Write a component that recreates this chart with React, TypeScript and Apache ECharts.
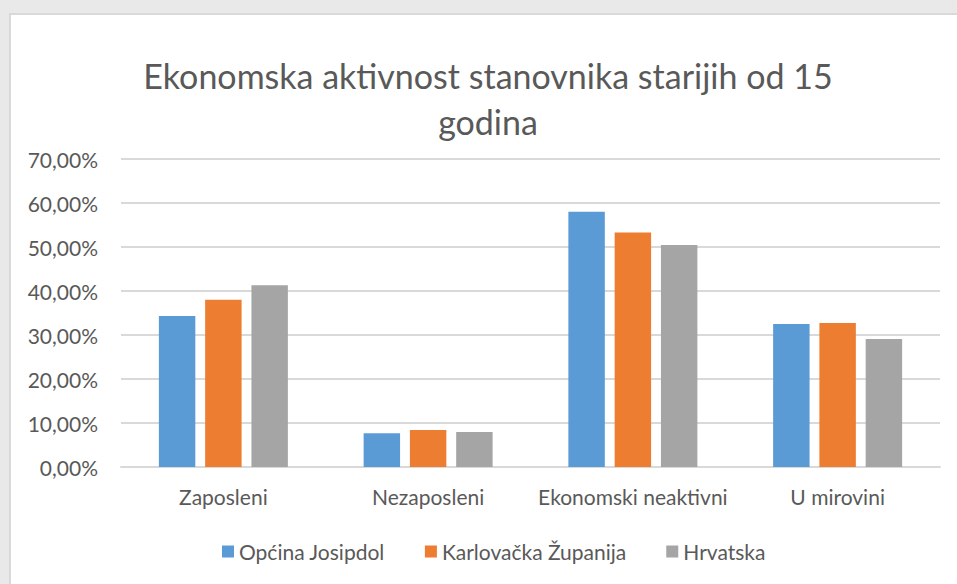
import React, { useEffect, useRef } from "react";
import * as echarts from "echarts";

const categories = ["Zaposleni", "Nezaposleni", "Ekonomski neaktivni", "U mirovini"];
const seriesNames = ["Općina Josipdol", "Karlovačka Županija", "Hrvatska"];
const josipdol = [34.3, 7.65, 58.0, 32.5];
const karlovacka = [38.0, 8.4, 53.3, 32.7];
const hrvatska = [41.3, 7.95, 50.45, 29.1];
const colors = ["#5B9BD5", "#ED7D31", "#A5A5A5"];
const titleText = "Ekonomska aktivnost stanovnika starijih od 15\ngodina";

export default function App() {
  const ref = useRef<HTMLDivElement>(null);
  useEffect(() => {
    if (!ref.current) return;
    const chart = echarts.init(ref.current, undefined, { renderer: "svg" });
    const font = "Lato, 'Open Sans', sans-serif";
    const data = [josipdol, karlovacka, hrvatska];
    chart.setOption({
      animation: false,
      backgroundColor: "#e9e9e9",
      textStyle: { fontFamily: font },
      graphic: [
        {
          type: "rect",
          z: -10,
          silent: true,
          shape: { x: 10, y: 14, width: 960, height: 590 },
          style: { fill: "#ffffff", stroke: "#d9d9d9", lineWidth: 2 },
        },
      ],
      title: {
        text: titleText,
        left: 488,
        top: 52,
        padding: 0,
        textAlign: "center",
        textStyle: {
          fontFamily: font,
          fontSize: 34,
          fontWeight: "normal",
          color: "#595959",
          lineHeight: 46,
        },
      },
      legend: {
        data: seriesNames,
        left: 217,
        top: 536,
        itemWidth: 12,
        itemHeight: 12,
        itemGap: 40,
        icon: "rect",
        textStyle: { fontFamily: font, fontSize: 21, color: "#595959" },
      },
      grid: { left: 121, right: 17, top: 159, bottom: 117 },
      xAxis: {
        type: "category",
        data: categories,
        axisLine: { show: true, lineStyle: { color: "#d9d9d9", width: 2 } },
        axisTick: { show: false },
        axisLabel: { color: "#595959", fontSize: 21, fontFamily: font, margin: 19, interval: 0 },
      },
      yAxis: {
        type: "value",
        min: 0,
        max: 70,
        interval: 10,
        axisLine: { show: false },
        axisTick: { show: false },
        splitLine: { lineStyle: { color: "#d9d9d9", width: 2 } },
        axisLabel: {
          color: "#595959",
          fontSize: 21,
          fontFamily: font,
          margin: 23,
          formatter: (v: number) => v.toFixed(2).replace(".", ",") + "%",
        },
      },
      series: seriesNames.map((name, i) => ({
        name,
        type: "bar",
        data: data[i],
        barGap: "27%",
        barCategoryGap: "37%",
        itemStyle: { color: colors[i] },
      })),
    });
    return () => chart.dispose();
  }, []);
  return (
    <div
      ref={ref}
      style={{ position: "absolute", left: 0, top: 0, width: 957, height: 584 }}
    />
  );
}
